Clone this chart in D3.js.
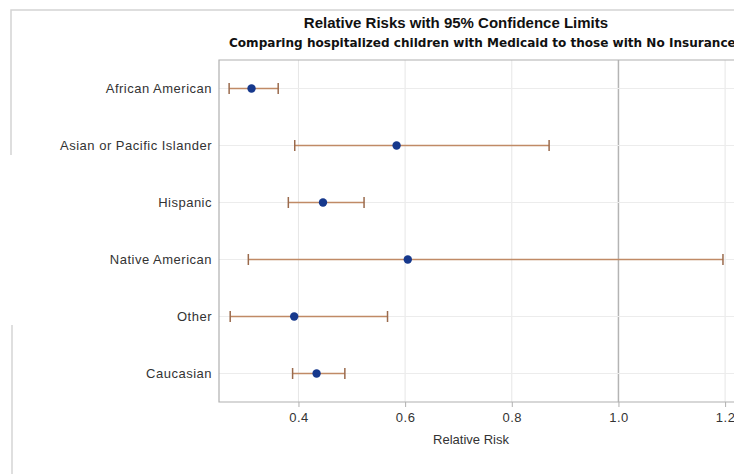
<!DOCTYPE html>
<html>
<head>
<meta charset="utf-8">
<script src="https://cdn.jsdelivr.net/npm/d3@7"></script>
<style>
  body { margin: 0; background: #fff; overflow: hidden; }
  text { font-family: "Liberation Sans", Arial, sans-serif; }
</style>
</head>
<body>
<div id="chart"></div>
<script>
// values
const groups = ['African American', 'Asian or Pacific Islander', 'Hispanic', 'Native American', 'Other', 'Caucasian']
const rr = [0.312, 0.584, 0.446, 0.605, 0.392, 0.434]
const lower = [0.270, 0.393, 0.381, 0.306, 0.272, 0.389]
const upper = [0.362, 0.870, 0.523, 1.196, 0.567, 0.487]
const xTicks = [0.4, 0.6, 0.8, 1.0, 1.2]

const data = groups.map((g, i) => ({ group: g, rr: rr[i], lo: lower[i], hi: upper[i] }))

const width = 734
const height = 474
const plot = { left: 219, top: 60, bottom: 402 }

const svg = d3.select('#chart')
.append('svg')
.attr('width', width)
.attr('height', height)

// outer frame (partly cut in the screenshot)
svg.append('path')
  .attr('d', 'M11,155 V10 H760')
  .attr('fill', 'none')
  .attr('stroke', '#d4d4d4')
  .attr('stroke-width', 1.5)
svg.append('line')
  .attr('x1', 12).attr('x2', 12).attr('y1', 325).attr('y2', 474)
  .attr('stroke', '#d4d4d4')
  .attr('stroke-width', 1.5)

const x = d3.scaleLinear()
.domain([0.251, 1.25])
.range([plot.left, plot.left + (1.25 - 0.251) * 533.3])

const y = d3.scalePoint()
.domain(groups)
.range([plot.top, plot.bottom])
.padding(0.5)

// gridlines
svg.append('g')
  .selectAll('line')
  .data(xTicks)
  .join('line')
  .attr('x1', d => x(d)).attr('x2', d => x(d))
  .attr('y1', plot.top).attr('y2', plot.bottom)
  .attr('stroke', d => d === 1.0 ? '#b4b4b4' : '#e6e6e6')
  .attr('stroke-width', d => d === 1.0 ? 1.5 : 1)

svg.append('g')
  .selectAll('line')
  .data(groups)
  .join('line')
  .attr('x1', plot.left).attr('x2', width + 20)
  .attr('y1', d => y(d)).attr('y2', d => y(d))
  .attr('stroke', '#ececec')

// frame of the plot area
svg.append('path')
  .attr('d', `M${width + 20},${plot.top} H${plot.left} V${plot.bottom} H${width + 20}`)
  .attr('fill', 'none')
  .attr('stroke', '#b0b0b0')
  .attr('stroke-width', 1.2)

// x axis
const xAxis = svg.append('g')
  .attr('transform', `translate(0,${plot.bottom})`)
  .call(d3.axisBottom(x).tickValues(xTicks).tickFormat(d3.format('.1f')).tickSize(5).tickPadding(6))
xAxis.select('.domain').remove()
xAxis.selectAll('line').attr('stroke', '#b0b0b0')
xAxis.selectAll('text')
  .attr('fill', '#333')
  .style('font-size', '13px')
  .style('letter-spacing', '0.5px')
  .style('font-family', '"Liberation Sans", Arial, sans-serif')

svg.append('text')
  .attr('x', 471)
  .attr('y', 444)
  .attr('text-anchor', 'middle')
  .attr('fill', '#333')
  .style('font-size', '13px')
  .text('Relative Risk')

// y axis labels
svg.append('g')
  .selectAll('text')
  .data(groups)
  .join('text')
  .attr('x', 212)
  .attr('y', d => y(d))
  .attr('dy', '0.35em')
  .attr('text-anchor', 'end')
  .attr('fill', '#333')
  .style('font-size', '13px')
  .style('letter-spacing', '0.5px')
  .text(d => d)

// confidence limits
const bars = svg.append('g')
bars.selectAll('.ci')
  .data(data)
  .join('line')
  .attr('x1', d => x(d.lo)).attr('x2', d => x(d.hi))
  .attr('y1', d => y(d.group)).attr('y2', d => y(d.group))
  .attr('stroke', '#c08a66')
  .attr('stroke-width', 1.5)

const caps = data.flatMap(d => [{ group: d.group, v: d.lo }, { group: d.group, v: d.hi }])
bars.selectAll('.cap')
  .data(caps)
  .join('line')
  .attr('x1', d => x(d.v)).attr('x2', d => x(d.v))
  .attr('y1', d => y(d.group) - 5.5).attr('y2', d => y(d.group) + 5.5)
  .attr('stroke', '#9a6a4c')
  .attr('stroke-width', 1.5)

bars.selectAll('circle')
  .data(data)
  .join('circle')
  .attr('cx', d => x(d.rr))
  .attr('cy', d => y(d.group))
  .attr('r', 4.2)
  .attr('fill', '#16388c')

// titles
svg.append('text')
  .attr('x', 456)
  .attr('y', 28)
  .attr('text-anchor', 'middle')
  .attr('fill', '#111')
  .style('font-size', '15px')
  .style('font-weight', 'bold')
  .text('Relative Risks with 95% Confidence Limits')

svg.append('text')
  .attr('x', 229)
  .attr('y', 47)
  .attr('fill', '#111')
  .style('font-family', '"DejaVu Sans", sans-serif')
  .style('font-size', '12.05px')
  .style('font-weight', 'bold')
  .text('Comparing hospitalized children with Medicaid to those with No Insurance')
</script>
</body>
</html>
